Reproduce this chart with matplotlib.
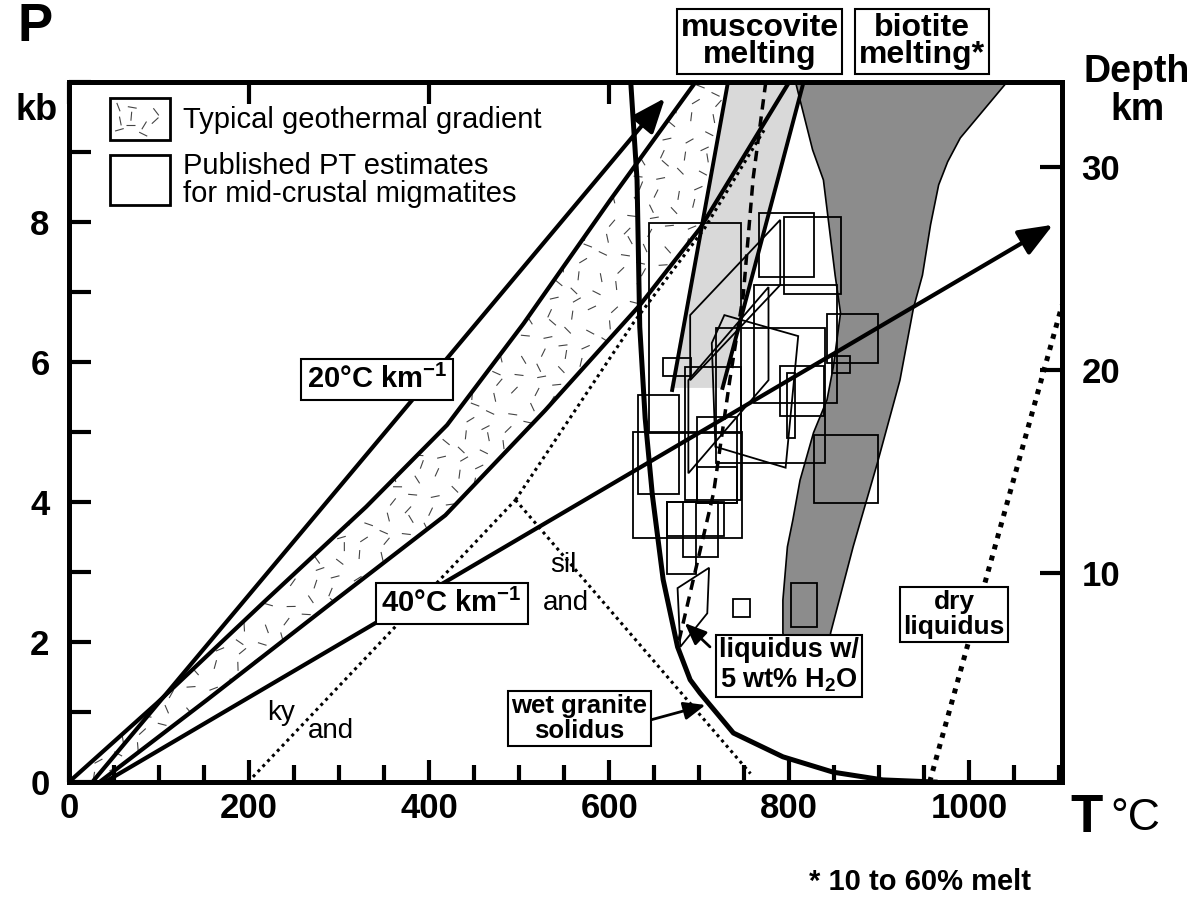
import numpy as np
import matplotlib
matplotlib.use("Agg")
import matplotlib.pyplot as plt
from matplotlib.patches import Polygon, Rectangle
from matplotlib.collections import LineCollection
from matplotlib.ticker import MultipleLocator

plt.rcParams['font.family'] = ['Liberation Sans', 'DejaVu Sans']
plt.rcParams['mathtext.fontset'] = 'custom'
plt.rcParams['mathtext.rm'] = 'Liberation Sans'
plt.rcParams['mathtext.bf'] = 'Liberation Sans:bold'

# ---- data (T in degC, P in kb) ----
# 20 C/km geotherm (arrow) and 40 C/km geotherm (arrow)
geo20_T = [26, 662]
geo20_P = [0.0, 9.77]
geo40_T = [40, 1093]
geo40_P = [0.0, 7.96]

# typical geothermal gradient band (between two curved geotherms)
band_lo_T = [0, 98, 219, 330, 420, 505, 601, 696]
band_lo_P = [0.0, 1.13, 2.60, 3.93, 5.10, 6.55, 8.31, 10.0]
band_hi_T = [34, 153, 296, 418, 529, 634, 701, 800]
band_hi_P = [0.0, 1.17, 2.60, 3.81, 5.31, 6.81, 7.91, 10.0]

# aluminosilicate boundaries
ky_and_T = [199, 496]
ky_and_P = [0.0, 4.03]
ky_sil_T = [496, 627, 706, 772]
ky_sil_P = [4.03, 6.56, 7.91, 9.31]
and_sil_T = [496, 757]
and_sil_P = [4.03, 0.12]

# wet granite solidus
wet_T = [624, 631, 634, 640, 648, 660, 676, 690, 701, 738, 793, 849, 904, 962]
wet_P = [10.0, 8.6, 6.5, 5.2, 4.1, 2.89, 1.93, 1.46, 1.27, 0.70, 0.36, 0.14, 0.03, 0.0]

# liquidus with 5 wt% H2O (dashed)
liq5_T = [774, 760, 749, 734, 716, 676]
liq5_P = [10.0, 8.63, 6.96, 5.74, 4.13, 1.93]

# dry liquidus (dotted)
dry_T = [956, 1103]
dry_P = [0.0, 6.81]

# muscovite melting field
musc_T = [732, 816, 726, 668]
musc_P = [10.0, 10.0, 5.63, 5.63]

# biotite melting field (10-60% melt)
bio_T = [807, 826, 838, 851, 857, 849, 842, 827, 812, 804, 798, 793, 793, 798,
         843, 846, 871, 898, 923, 938, 948, 957, 966, 976, 990, 1042]
bio_P = [10.0, 9.03, 8.6, 7.24, 6.7, 5.93, 5.46, 4.99, 4.31, 3.74, 3.36, 2.6, 2.13, 1.74,
         1.74, 2.13, 3.36, 4.56, 5.74, 6.77, 7.24, 7.96, 8.53, 8.86, 9.2, 10.0]

# published PT estimates: rectangles (Tmin, Tmax, Pmin, Pmax)
pt_boxes = [
    (644, 747, 4.99, 7.99), (767, 828, 7.21, 8.13), (794, 858, 6.97, 8.07),
    (761, 853, 5.41, 7.10), (842, 899, 5.99, 6.69), (848, 867, 5.84, 6.09),
    (660, 691, 5.80, 6.06), (684, 746, 4.03, 5.93), (719, 840, 4.56, 6.49),
    (790, 839, 5.23, 5.94), (797, 806, 4.91, 5.84), (632, 678, 4.11, 5.53),
    (698, 742, 3.99, 5.21), (627, 748, 3.49, 5.00), (827, 899, 3.99, 4.96),
    (698, 742, 3.99, 4.50), (664, 728, 3.51, 4.00), (664, 696, 2.97, 4.00),
    (682, 721, 3.21, 4.00), (738, 756, 2.36, 2.61), (802, 831, 2.21, 2.84),
]
# published PT estimates: polygons
pt_polys = [
    [(790, 8.03), (790, 7.10), (690, 5.74), (690, 6.67)],
    [(688, 5.74), (777, 7.07), (777, 5.74), (688, 4.41)],
    [(728, 6.67), (810, 6.37), (796, 4.49), (718, 4.79), (714, 6.27)],
    [(676, 2.77), (711, 3.06), (709, 2.41), (679, 1.93)],
]

x_ticks = [0, 200, 400, 600, 800, 1000]
p_ticks = [0, 2, 4, 6, 8]
depth_ticks = [10, 20, 30]

# ---- figure ----
fig = plt.figure(figsize=(11.95, 8.97), dpi=100)
ax = fig.add_axes([0.0577, 0.1282, 0.8310, 0.7804])
ax.set_xlim(0, 1103)
ax.set_ylim(0, 10)


def dash_segments(t0, t1, p0, p1, n, off):
    # short dashes with quasi-random (deterministic) positions and angles, used as a texture
    i = np.arange(n)
    u = (i * 0.7548776662 + off) % 1
    v = (i * 0.5698402910 + off) % 1
    ang = ((i * 0.6180339887) % 1) * np.pi
    cx = t0 + u * (t1 - t0)
    cy = p0 + v * (p1 - p0)
    dx = 4.5 * np.cos(ang) / 0.9
    dy = 4.5 * np.sin(ang) / 70
    return np.stack([np.column_stack([cx - dx, cy - dy]),
                     np.column_stack([cx + dx, cy + dy])], axis=1)


band_pts = list(zip(band_lo_T, band_lo_P)) + list(zip(band_hi_T[::-1], band_hi_P[::-1]))
band = Polygon(band_pts, closed=True, fc='white', ec='none', zorder=1)
ax.add_patch(band)
lc = LineCollection(dash_segments(0, 1103, 0, 10, 2200, 0.5), colors='#444444',
                    linewidths=0.8, zorder=1.5)
ax.add_collection(lc)
lc.set_clip_path(band)

ax.add_patch(Polygon(list(zip(musc_T, musc_P)), closed=True, fc='#d9d9d9', ec='none', zorder=2))
ax.add_patch(Polygon(list(zip(bio_T, bio_P)), closed=True, fc='#8c8c8c', ec='k', lw=1.2, zorder=2))

for t0, t1, p0, p1 in pt_boxes:
    ax.add_patch(Rectangle((t0, p0), t1 - t0, p1 - p0, fill=False, ec='k', lw=1.3, zorder=3))
for poly in pt_polys:
    ax.add_patch(Polygon(poly, closed=True, fill=False, ec='k', lw=1.3, zorder=3))

# geotherms
ax.plot(band_lo_T, band_lo_P, color='k', lw=3, zorder=4)
ax.plot(band_hi_T, band_hi_P, color='k', lw=3, zorder=4)
arrow_kw = dict(arrowstyle='-|>,head_length=0.7,head_width=0.28', lw=3, color='k',
                mutation_scale=30, shrinkA=0, shrinkB=0)
ax.annotate('', xy=(geo20_T[1], geo20_P[1]), xytext=(geo20_T[0], geo20_P[0]),
            arrowprops=arrow_kw, zorder=4)
ax.annotate('', xy=(geo40_T[1], geo40_P[1]), xytext=(geo40_T[0], geo40_P[0]),
            arrowprops=arrow_kw, zorder=4)

# muscovite field edges
ax.plot([musc_T[0], 670], [musc_P[0], 5.6], color='k', lw=2.8, zorder=4)
ax.plot([musc_T[1], musc_T[2]], [musc_P[1], musc_P[2]], color='k', lw=2.8, zorder=4)

# aluminosilicates
dots = (0, (1, 1.3))
ax.plot(ky_and_T, ky_and_P, color='k', lw=2.2, ls=dots, zorder=4)
ax.plot(ky_sil_T, ky_sil_P, color='k', lw=2.2, ls=dots, zorder=4)
ax.plot(and_sil_T, and_sil_P, color='k', lw=2.2, ls=dots, zorder=4)

# melting curves
ax.plot(wet_T, wet_P, color='k', lw=3.6, zorder=4)
ax.plot(liq5_T, liq5_P, color='k', lw=2.5, ls=(0, (3, 2)), zorder=4)
ax.plot(dry_T, dry_P, color='k', lw=3.6, ls=dots, zorder=4)

# labels
box = dict(boxstyle='square,pad=0.2', fc='white', ec='k', lw=1.5)
ax.text(342, 5.75, '20°C km$^\\mathbf{-1}$', ha='center', va='center', fontsize=21,
        fontweight='bold', bbox=box, zorder=6)
ax.text(425, 2.55, '40°C km$^\\mathbf{-1}$', ha='center', va='center', fontsize=21,
        fontweight='bold', bbox=box, zorder=6)
ax.text(567, 0.91, 'wet granite\nsolidus', ha='center', va='center', fontsize=18.5,
        fontweight='bold', linespacing=1.05, bbox=dict(box, boxstyle='square,pad=0.12'), zorder=6)
ax.text(800, 1.66, 'liquidus w/\n5 wt% H$_\\mathbf{2}$O', ha='center', va='center',
        fontsize=19.5, fontweight='bold', linespacing=1.15, bbox=dict(box, boxstyle='square,pad=0.12'),
        zorder=6)
ax.text(983, 2.39, 'dry\nliquidus', ha='center', va='center', fontsize=19,
        fontweight='bold', linespacing=1.05, bbox=dict(box, boxstyle='square,pad=0.12'), zorder=6)

small_arrow = dict(arrowstyle='-|>,head_length=0.6,head_width=0.25', lw=2, color='k',
                   mutation_scale=22, shrinkA=0, shrinkB=0)
ax.annotate('', xy=(707, 1.10), xytext=(647, 0.89), arrowprops=small_arrow, zorder=5)
ax.annotate('', xy=(684, 2.27), xytext=(712, 1.93), arrowprops=small_arrow, zorder=5)

ax.text(236, 0.99, 'ky', ha='center', va='center', fontsize=20)
ax.text(291, 0.73, 'and', ha='center', va='center', fontsize=20)
ax.text(549, 3.10, 'sil', ha='center', va='center', fontsize=20)
ax.text(552, 2.56, 'and', ha='center', va='center', fontsize=20)

# legend
ax.add_patch(Rectangle((46, 9.17), 66, 0.60, fc='white', ec='k', lw=2, zorder=5))
lc_leg = LineCollection(dash_segments(52, 106, 9.25, 9.70, 10, 0.3), colors='#444444',
                        linewidths=0.8, zorder=5.5)
ax.add_collection(lc_leg)
ax.add_patch(Rectangle((46, 8.24), 66, 0.72, fill=False, ec='k', lw=2, zorder=6))
ax.text(127, 9.46, 'Typical geothermal gradient', ha='left', va='center', fontsize=21)
ax.text(127, 8.60, 'Published PT estimates\nfor mid-crustal migmatites', ha='left',
        va='center', fontsize=21, linespacing=1.0)

# axes styling
for s in ax.spines.values():
    s.set_linewidth(3.5)
ax.set_xticks(x_ticks)
ax.xaxis.set_minor_locator(MultipleLocator(50))
ax.set_yticks(p_ticks)
ax.yaxis.set_minor_locator(MultipleLocator(1))
ax.tick_params(axis='x', which='major', direction='in', length=16, width=3, top=True,
               labelsize=25, pad=7)
ax.tick_params(axis='x', which='minor', direction='in', length=12, width=3, top=False)
ax.tick_params(axis='y', which='both', direction='in', length=16, width=3, right=False,
               labelsize=25, pad=14)
for lab in ax.get_xticklabels() + ax.get_yticklabels():
    lab.set_fontweight('bold')

ax2 = ax.twinx()
ax2.set_ylim(-0.3, 34.2)
ax2.set_yticks(depth_ticks)
ax2.tick_params(axis='y', direction='in', length=16, width=3, labelsize=25, pad=14)
for lab in ax2.get_yticklabels():
    lab.set_fontweight('bold')
for s in ax2.spines.values():
    s.set_linewidth(3.5)

# outside texts
obox = dict(boxstyle='square,pad=0.12', fc='white', ec='k', lw=1.5)
fig.text(0.6356, 0.9537, 'muscovite\nmelting', ha='center', va='center', fontsize=23,
         fontweight='bold', linespacing=0.9, bbox=obox)
fig.text(0.7715, 0.9537, 'biotite\nmelting*', ha='center', va='center', fontsize=23,
         fontweight='bold', linespacing=0.9, bbox=obox)
fig.text(0.0293, 0.970, 'P', ha='center', va='center', fontsize=38, fontweight='bold')
fig.text(0.031, 0.877, 'kb', ha='center', va='center', fontsize=26, fontweight='bold')
fig.text(0.9515, 0.920, 'Depth', ha='center', va='center', fontsize=27, fontweight='bold')
fig.text(0.9515, 0.877, 'km', ha='center', va='center', fontsize=27, fontweight='bold')
fig.text(0.9096, 0.088, 'T', ha='center', va='center', fontsize=38, fontweight='bold')
fig.text(0.950, 0.088, '°C', ha='center', va='center', fontsize=32)
fig.text(0.770, 0.0167, '* 10 to 60% melt', ha='center', va='center', fontsize=21, fontweight='bold')

fig.savefig('out.png', dpi=100)
